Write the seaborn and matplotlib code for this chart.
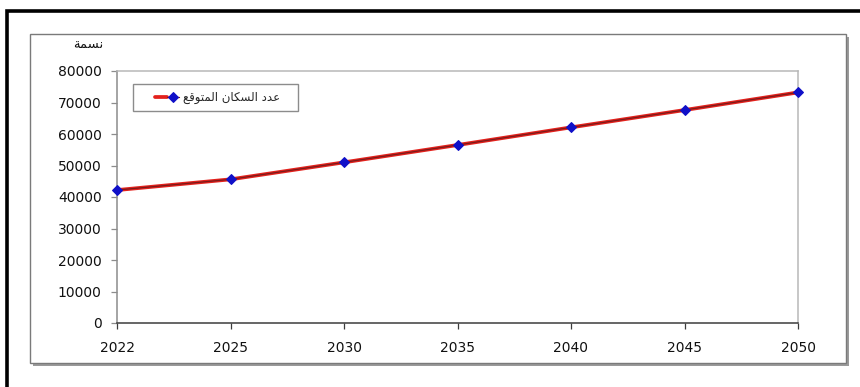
import matplotlib
matplotlib.use("Agg")
import matplotlib.pyplot as plt
from matplotlib.patches import Rectangle
from matplotlib.legend_handler import HandlerTuple
import seaborn as sns
import pandas as pd

# Projected population by year
years = ["2022", "2025", "2030", "2035", "2040", "2045", "2050"]
population = [42200, 45600, 51000, 56500, 62100, 67600, 73200]
y_ticks = [0, 10000, 20000, 30000, 40000, 50000, 60000, 70000, 80000]

unit_label = "نسمة"
series_label = "عدد السكان المتوقع"

# --- minimal Arabic shaping (contextual forms + right-to-left order) ---
FORMS = {
    "ا": ("\uFE8D", "\uFE8E"), "د": ("\uFEA9", "\uFEAA"),
    "ة": ("\uFE93", "\uFE94"), "و": ("\uFEED", "\uFEEE"),
    "ن": ("\uFEE5", "\uFEE6", "\uFEE7", "\uFEE8"),
    "س": ("\uFEB1", "\uFEB2", "\uFEB3", "\uFEB4"),
    "م": ("\uFEE1", "\uFEE2", "\uFEE3", "\uFEE4"),
    "ع": ("\uFEC9", "\uFECA", "\uFECB", "\uFECC"),
    "ل": ("\uFEDD", "\uFEDE", "\uFEDF", "\uFEE0"),
    "ك": ("\uFED9", "\uFEDA", "\uFEDB", "\uFEDC"),
    "ت": ("\uFE95", "\uFE96", "\uFE97", "\uFE98"),
    "ق": ("\uFED5", "\uFED6", "\uFED7", "\uFED8"),
}
DUAL = {c for c, f in FORMS.items() if len(f) == 4}


def shape(text):
    out = []
    for i, ch in enumerate(text):
        if ch not in FORMS:
            out.append(ch)
            continue
        prev = text[i - 1] if i > 0 else ""
        nxt = text[i + 1] if i + 1 < len(text) else ""
        f = FORMS[ch]
        if len(f) == 2:
            f = (f[0], f[1], f[0], f[1])
        jp = prev in DUAL
        jn = ch in DUAL and nxt in FORMS
        out.append(f[3] if jp and jn else f[1] if jp else f[2] if jn else f[0])
    return "".join(reversed(out))


sns.set_style("white")
plt.rcParams["font.family"] = ["DejaVu Sans"]

W, H = 860, 387
fig = plt.figure(figsize=(W / 100, H / 100), dpi=100)


def fx(px):
    return px / W


def fy(py):
    return 1 - py / H


# outer black frame and the chart-area box with its shadow
fig.patches.append(Rectangle((fx(7), fy(420)), fx(900) - fx(7), fy(11) - fy(420),
                             transform=fig.transFigure, fill=False,
                             edgecolor="black", linewidth=2.6, zorder=-3))
fig.patches.append(Rectangle((fx(33), fy(366)), fx(849) - fx(33), fy(37) - fy(366),
                             transform=fig.transFigure, facecolor="#9a9a9a",
                             edgecolor="none", zorder=-2))
fig.patches.append(Rectangle((fx(30), fy(363)), fx(846) - fx(30), fy(34) - fy(363),
                             transform=fig.transFigure, facecolor="white",
                             edgecolor="#7a7a7a", linewidth=1.0, zorder=-1))

ax = fig.add_axes([fx(117), fy(323), fx(798) - fx(117), fy(71) - fy(323)])
ax.set_facecolor("white")

df = pd.DataFrame({"year": years, "population": population})

sns.lineplot(data=df, x="year", y="population", ax=ax, color="#e3211c",
             linewidth=2.7, sort=False)
sns.lineplot(data=df, x="year", y="population", ax=ax, color="#7a1b1b",
             linewidth=0.9, sort=False, marker="D", markersize=5.2,
             markerfacecolor="#1010c8", markeredgecolor="#1010c8",
             clip_on=False, zorder=5)
red_line, dark_line = ax.get_lines()[0], ax.get_lines()[1]

ax.set_xlim(0, len(years) - 1)
ax.set_ylim(0, 80000)
ax.set_yticks(y_ticks)
ax.set_xlabel("")
ax.set_ylabel("")

for side, col in (("top", "#b8b8b8"), ("right", "#b8b8b8"),
                  ("left", "#8c8c8c"), ("bottom", "#3c3c3c")):
    ax.spines[side].set_visible(True)
    ax.spines[side].set_color(col)
    ax.spines[side].set_linewidth(1.1)

ax.tick_params(axis="y", which="major", direction="out", length=4,
               width=0.9, color="#8c8c8c", pad=7, labelsize=10,
               labelcolor="#111111", left=True)
ax.tick_params(axis="x", which="major", direction="out", length=4,
               width=0.9, color="#3c3c3c", pad=9, labelsize=10,
               labelcolor="#111111", bottom=True)

# unit label above the value axis
fig.text(fx(103), fy(45), shape(unit_label), ha="right", va="center",
         fontsize=9.5, color="#111111")

leg = ax.legend(handles=[(red_line, dark_line)],
                labels=[shape(series_label) + "   "],
                handler_map={tuple: HandlerTuple(ndivide=None, pad=0, xpad=1.25)},
                loc="upper left", bbox_to_anchor=(fx(133), fy(84)),
                bbox_transform=fig.transFigure, borderaxespad=0,
                fontsize=8.5, frameon=True, fancybox=False, framealpha=1,
                edgecolor="#8c8c8c", borderpad=0.6, handlelength=3.3,
                handletextpad=0.3, numpoints=1)
leg.get_frame().set_linewidth(1.0)

fig.savefig("out.png", dpi=100)
